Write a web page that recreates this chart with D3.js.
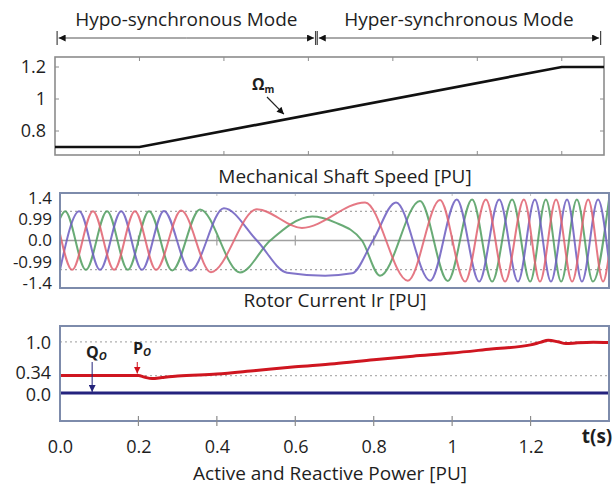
<!DOCTYPE html>
<html><head><meta charset="utf-8">
<script src="https://cdn.jsdelivr.net/npm/d3@7"></script>
<style>
html,body{margin:0;padding:0;background:#fff;}
svg{display:block;}
text{font-family:"Open Sans",Lato,sans-serif;fill:#1e1e1e;}
</style></head><body>
<svg id="chart" width="614" height="488"></svg>
<script>
// ---------- data ----------
// mechanical shaft speed profile [PU] vs time [s]
const speedT  = [0, 0.2, 1.2, 1.3];
const speedPU = [0.7, 0.7, 1.2, 1.2];
const speedTickValues = [0.8, 1, 1.2];
const speedTickLabels = ["0.8", "1", "1.2"];

// rotor phase currents: turning points (time [s], current [PU])
const irRedT = [0, 0.031, 0.084, 0.138, 0.191, 0.245, 0.309, 0.385, 0.502, 0.617, 0.778, 0.887, 0.969, 1.033, 1.086, 1.135, 1.183, 1.224, 1.265, 1.306, 1.347, 1.385, 1.4];
const irRedV = [0.22, -1.0, 1.0, -1.0, 1.0, -1.0, 1.02, -1.08, 1.07, 0.43, 1.3, -1.37, 1.38, -1.4, 1.4, -1.4, 1.4, -1.4, 1.4, -1.4, 1.4, -1.4, -0.5];
const irGreenT = [0, 0.013, 0.066, 0.120, 0.173, 0.227, 0.286, 0.357, 0.459, 0.536, 0.643, 0.701, 0.770, 0.816, 0.918, 0.989, 1.051, 1.102, 1.153, 1.199, 1.239, 1.278, 1.318, 1.359, 1.4];
const irGreenV = [0.75, 1.0, -1.0, 1.0, -1.0, 1.0, -1.02, 1.06, -1.09, 0.0, 0.82, 0.62, 0.0, -1.2, 1.35, -1.38, 1.4, -1.4, 1.4, -1.4, 1.4, -1.4, 1.4, -1.4, 1.4];
const irBlueT = [0, 0.049, 0.102, 0.156, 0.209, 0.265, 0.332, 0.418, 0.502, 0.579, 0.676, 0.745, 0.798, 0.857, 0.944, 1.012, 1.069, 1.120, 1.168, 1.211, 1.252, 1.293, 1.331, 1.372, 1.4];
const irBlueV = [-1.0, 1.0, -1.0, 1.0, -1.0, 1.01, -1.03, 1.1, 0.0, -1.1, -1.2, -1.12, 0.0, 1.3, -1.37, 1.4, -1.4, 1.4, -1.4, 1.4, -1.4, 1.4, -1.4, 1.4, -0.75];
const irTickValues = [1.4, 0.99, 0, -0.99, -1.4];
const irTickLabels = ["1.4", "0.99", "0.0", "-0.99", "-1.4"];
const irGridValues = [0.99, -0.99];

// active (P) and reactive (Q) power [PU]
const pT = [0, 0.1, 0.2, 0.215, 0.235, 0.26, 0.3, 0.4, 0.5, 0.6, 0.7, 0.8, 0.9, 1.0, 1.1, 1.2, 1.225, 1.245, 1.27, 1.29, 1.32, 1.36, 1.4];
const pV = [0.34, 0.34, 0.34, 0.31, 0.28, 0.30, 0.33, 0.37, 0.44, 0.51, 0.57, 0.65, 0.72, 0.78, 0.86, 0.94, 0.99, 1.03, 1.0, 0.965, 0.98, 0.99, 0.985];
const qT = [0, 0.7, 1.4];
const qV = [0, 0, 0];
const powerTickValues = [1.0, 0.34, 0.0];
const powerTickLabels = ["1.0", "0.34", "0.0"];
const powerGridValues = [1.0, 0.34];

const timeTickValues = [0, 0.2, 0.4, 0.6, 0.8, 1, 1.2];
const timeTickLabels = ["0.0", "0.2", "0.4", "0.6", "0.8", "1", "1.2"];

const modeNames = ["Hypo-synchronous Mode", "Hyper-synchronous Mode"];
const modeStart = [0.005, 0.621];
const modeEnd   = [0.617, 1.292];

const panelTitles = ["Mechanical Shaft Speed [PU]", "Rotor Current Ir [PU]", "Active and Reactive Power [PU]"];

// ---------- drawing ----------
const FS = 18;           // tick label font size
const TS = 19;           // title font size
const svg = d3.select("#chart");
const defs = svg.append("defs");
function marker(id, color, w, h) {
  defs.append("marker").attr("id", id).attr("viewBox", "0 0 10 10")
    .attr("refX", 10).attr("refY", 5).attr("markerWidth", w).attr("markerHeight", h)
    .attr("markerUnits", "userSpaceOnUse").attr("orient", "auto")
    .append("path").attr("d", "M0,0L10,5L0,10Z").attr("fill", color);
}
marker("ahBlack", "#111", 8, 7);
marker("ahNavy", "#23237a", 7, 7);
marker("ahRed", "#d0101a", 7, 7);

const zip = (a, b) => a.map((v, i) => [v, b[i]]);
function styleTicks(sel, size) {
  sel.select(".domain").remove();
  sel.selectAll("text").attr("font-size", size).attr("font-family", "'Open Sans', sans-serif").attr("fill", "#1e1e1e");
}

// ===== panel 1: shaft speed =====
const x1 = d3.scaleLinear([0, 1.3], [55, 604]);
const y1 = d3.scaleLinear([0.65, 1.2625], [155, 57]);
const g1 = svg.append("g");

// mode spans above the panel
const modeY = 38;
modeNames.forEach((name, i) => {
  const a = x1(modeStart[i]), b = x1(modeEnd[i]);
  [a, b].forEach(xx => g1.append("line").attr("x1", xx).attr("x2", xx).attr("y1", modeY - 7).attr("y2", modeY + 7)
    .attr("stroke", "#444").attr("stroke-width", 1.2));
  g1.append("line").attr("x1", (a + b) / 2).attr("x2", a + 1.5).attr("y1", modeY).attr("y2", modeY)
    .attr("stroke", "#555").attr("stroke-width", 1).attr("marker-end", "url(#ahBlack)");
  g1.append("line").attr("x1", (a + b) / 2).attr("x2", b - 1.5).attr("y1", modeY).attr("y2", modeY)
    .attr("stroke", "#555").attr("stroke-width", 1).attr("marker-end", "url(#ahBlack)");
  g1.append("text").attr("x", (a + b) / 2).attr("y", 26).attr("text-anchor", "middle")
    .attr("font-size", TS).text(name);
});

g1.append("rect").attr("x", 55).attr("y", 57).attr("width", 549).attr("height", 98)
  .attr("fill", "none").attr("stroke", "#8c8c8c").attr("stroke-width", 1.6);
// inner ticks
const tickLen = 4;
timeTickValues.slice(1).forEach(t => {
  g1.append("line").attr("x1", x1(t)).attr("x2", x1(t)).attr("y1", 57).attr("y2", 57 + tickLen).attr("stroke", "#8c8c8c");
  g1.append("line").attr("x1", x1(t)).attr("x2", x1(t)).attr("y1", 155).attr("y2", 155 - tickLen).attr("stroke", "#8c8c8c");
});
speedTickValues.forEach(v => {
  g1.append("line").attr("x1", 55).attr("x2", 55 + tickLen).attr("y1", y1(v)).attr("y2", y1(v)).attr("stroke", "#8c8c8c");
  g1.append("line").attr("x1", 604).attr("x2", 604 - tickLen).attr("y1", y1(v)).attr("y2", y1(v)).attr("stroke", "#8c8c8c");
});
const ax1 = g1.append("g").attr("transform", "translate(46,0)")
  .call(d3.axisLeft(y1).tickValues(speedTickValues).tickFormat((d, i) => speedTickLabels[i]).tickSize(0).tickPadding(0));
styleTicks(ax1, FS);

g1.append("path").datum(zip(speedT, speedPU))
  .attr("d", d3.line().x(d => x1(d[0])).y(d => y1(d[1])))
  .attr("fill", "none").attr("stroke", "#111").attr("stroke-width", 2.6);

// Omega_m annotation
const om = g1.append("text").attr("x", 252).attr("y", 90)
  .attr("font-family", "'Liberation Serif', serif").attr("font-weight", "bold").attr("font-size", 16);
om.append("tspan").text("Ω");
om.append("tspan").attr("font-size", 10).attr("dy", 3).text("m");
g1.append("line").attr("x1", 267).attr("y1", 97).attr("x2", x1(0.542)).attr("y2", y1(0.905))
  .attr("stroke", "#222").attr("stroke-width", 1.2).attr("marker-end", "url(#ahBlack)");

g1.append("text").attr("x", 345).attr("y", 183).attr("text-anchor", "middle")
  .attr("font-size", TS).text(panelTitles[0]);

// ===== panel 2: rotor current =====
const x2 = d3.scaleLinear([0, 1.4], [60, 609]);
const y2 = d3.scaleLinear([-1.62, 1.62], [288, 193]);
const g2 = svg.append("g");
irGridValues.forEach(v => {
  g2.append("line").attr("x1", 60).attr("x2", 609).attr("y1", y2(v)).attr("y2", y2(v))
    .attr("stroke", "#a8a8a8").attr("stroke-width", 1.2).attr("stroke-dasharray", "2,3");
});
g2.append("line").attr("x1", 60).attr("x2", 609).attr("y1", y2(0)).attr("y2", y2(0))
  .attr("stroke", "#a0a0a0").attr("stroke-width", 1.6);
timeTickValues.slice(1).forEach(t => {
  g2.append("line").attr("x1", x2(t)).attr("x2", x2(t)).attr("y1", y2(0) - 5).attr("y2", y2(0) + 5).attr("stroke", "#a0a0a0").attr("stroke-width", 1.2);
  g2.append("line").attr("x1", x2(t)).attr("x2", x2(t)).attr("y1", 193).attr("y2", 196).attr("stroke", "#c0c0c0");
});
const curve2 = d3.line().x(d => x2(d[0])).y(d => y2(d[1])).curve(d3.curveMonotoneX);
[[irGreenT, irGreenV, "#4f9c5e"], [irBlueT, irBlueV, "#6b5cc0"], [irRedT, irRedV, "#e0606e"]].forEach(([t, v, c]) => {
  g2.append("path").datum(zip(t, v)).attr("d", curve2)
    .attr("fill", "none").attr("stroke", c).attr("stroke-width", 2).attr("stroke-opacity", 0.85);
});
g2.append("rect").attr("x", 60).attr("y", 193).attr("width", 549).attr("height", 95)
  .attr("fill", "none").attr("stroke", "#7d8bab").attr("stroke-width", 2);
const yLab2 = d3.scalePoint(irTickLabels, [198, 283]);
const ax2 = g2.append("g").attr("transform", "translate(52,0)")
  .call(d3.axisLeft(yLab2).tickSize(0).tickPadding(0));
styleTicks(ax2, 17);
g2.append("text").attr("x", 335).attr("y", 307).attr("text-anchor", "middle")
  .attr("font-size", TS).text(panelTitles[1]);

// ===== panel 3: active / reactive power =====
const x3 = d3.scaleLinear([0, 1.4], [60, 609]);
const y3 = d3.scaleLinear([-0.55, 1.31], [421, 326]);
const g3 = svg.append("g");
powerGridValues.forEach(v => {
  g3.append("line").attr("x1", 60).attr("x2", 609).attr("y1", y3(v)).attr("y2", y3(v))
    .attr("stroke", "#b0b0b0").attr("stroke-width", 1.2).attr("stroke-dasharray", "2,3");
});
g3.append("path").datum(zip(qT, qV))
  .attr("d", d3.line().x(d => x3(d[0])).y(d => y3(d[1])))
  .attr("fill", "none").attr("stroke", "#25237e").attr("stroke-width", 3);
g3.append("path").datum(zip(pT, pV))
  .attr("d", d3.line().x(d => x3(d[0])).y(d => y3(d[1])).curve(d3.curveMonotoneX))
  .attr("fill", "none").attr("stroke", "#cf1620").attr("stroke-width", 3);
g3.append("rect").attr("x", 60).attr("y", 326).attr("width", 549).attr("height", 95)
  .attr("fill", "none").attr("stroke", "#7d8bab").attr("stroke-width", 2);
timeTickValues.slice(1).forEach(t => {
  g3.append("line").attr("x1", x3(t)).attr("x2", x3(t)).attr("y1", 416).attr("y2", 426).attr("stroke", "#8c8c8c").attr("stroke-width", 1.2);
});
const labelNudge = {"1.0": 1, "0.34": -3, "0.0": 2};
const ay3 = g3.append("g").attr("transform", "translate(51,0)")
  .call(d3.axisLeft(y3).tickValues(powerTickValues).tickFormat((d, i) => powerTickLabels[i]).tickSize(0).tickPadding(0));
styleTicks(ay3, FS);
ay3.selectAll("text").attr("transform", (d, i) => `translate(0,${labelNudge[powerTickLabels[i]]})`);
const ax3 = g3.append("g").attr("transform", "translate(0,440)")
  .call(d3.axisBottom(x3).tickValues(timeTickValues).tickFormat((d, i) => timeTickLabels[i]).tickSize(0).tickPadding(0));
styleTicks(ax3, FS);
g3.append("text").attr("x", 597).attr("y", 443).attr("text-anchor", "middle")
  .attr("font-family", "'Liberation Serif', serif").attr("font-weight", "bold").attr("font-size", 19).text("t(s)");

// P / Q markers
const qLab = g3.append("text").attr("x", 86).attr("y", 358)
  .attr("font-family", "'Liberation Serif', serif").attr("font-weight", "bold").attr("font-size", 16).attr("fill", "#333");
qLab.append("tspan").text("Q");
qLab.append("tspan").attr("font-size", 11).attr("font-style", "italic").attr("dy", 2).text("O");
g3.append("line").attr("x1", x3(0.082)).attr("x2", x3(0.082)).attr("y1", 362).attr("y2", y3(0) - 1)
  .attr("stroke", "#23237a").attr("stroke-width", 1).attr("marker-end", "url(#ahNavy)");
const pLab = g3.append("text").attr("x", 133).attr("y", 354)
  .attr("font-family", "'Liberation Serif', serif").attr("font-weight", "bold").attr("font-size", 16).attr("fill", "#333");
pLab.append("tspan").text("P");
pLab.append("tspan").attr("font-size", 11).attr("font-style", "italic").attr("dy", 2).text("O");
g3.append("line").attr("x1", x3(0.197)).attr("x2", x3(0.197)).attr("y1", 362).attr("y2", y3(0.34) - 2)
  .attr("stroke", "#d0101a").attr("stroke-width", 1).attr("marker-end", "url(#ahRed)");

g3.append("text").attr("x", 330).attr("y", 480).attr("text-anchor", "middle")
  .attr("font-size", TS).text(panelTitles[2]);
</script>
</body></html>
